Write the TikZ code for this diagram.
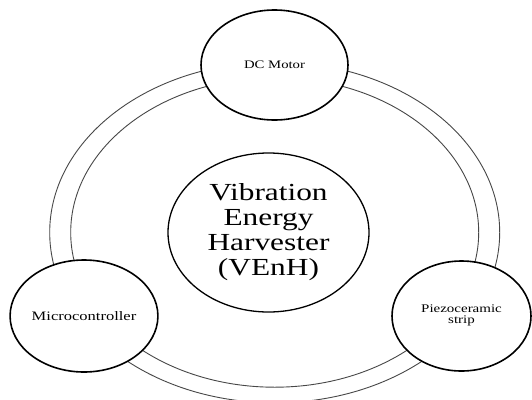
\documentclass[tikz,border=0pt]{standalone}
\usepackage{fontspec}
\setmainfont{Liberation Serif}
\usetikzlibrary{shapes.geometric}
\newcommand{\hx}[1]{\scalebox{1.28}[1]{#1}}
\begin{document}
\begin{tikzpicture}[x=1pt,y=-1pt,
  ring/.style={draw=black!72, line width=0.9pt},
  unit/.style={ellipse, draw=black, line width=1.6pt, fill=white, inner sep=0pt, align=center},
  hub/.style={ellipse, draw=black, line width=1.3pt, fill=white, inner sep=0pt}]
\clip (0,0) rectangle (532,399);
\fill[white] (0,0) rectangle (532,399);
\coordinate (c) at (274.7,232.4);
\draw[ring] (c) ellipse [x radius=204pt, y radius=154.8pt];
\draw[ring] (c) ellipse [x radius=225pt, y radius=170.4pt];
\node[hub, minimum width=201pt, minimum height=159pt] (h) at (268.5,232.5)
  {\hx{\fontsize{24.5}{25}\selectfont\begin{tabular}{@{}c@{}}Vibration\\Energy\\Harvester\\(VEnH)\end{tabular}}};
\node[unit, minimum width=147pt, minimum height=110pt] (dc) at (274.5,65)
  {\hx{\fontsize{11.5}{12}\selectfont DC Motor}};
\node[unit, minimum width=146pt, minimum height=112pt] (mc) at (84,316)
  {\hx{\fontsize{12.9}{13}\selectfont Microcontroller}};
\node[unit, minimum width=139pt, minimum height=110pt] (pz) at (461.5,316)
  {\hx{\fontsize{11.7}{11}\selectfont\begin{tabular}{@{}c@{}}Piezoceramic\\strip\end{tabular}}};
\end{tikzpicture}
\end{document}
